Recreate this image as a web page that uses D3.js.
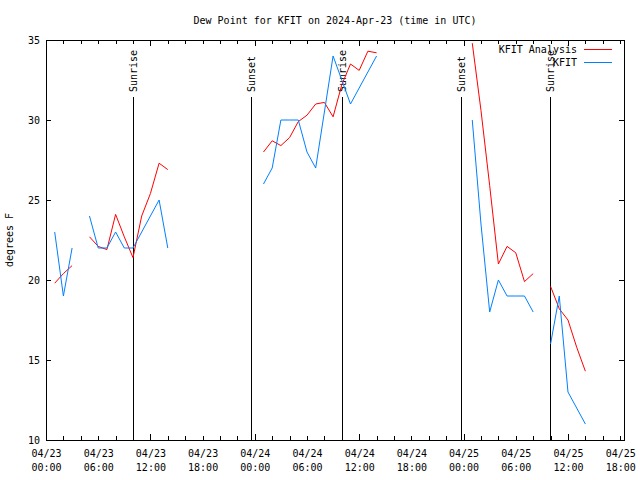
<!DOCTYPE html>
<html><head><meta charset="utf-8">
<script src="https://cdn.jsdelivr.net/npm/d3@7"></script>
<style>body{margin:0;background:#fff}</style>
</head><body>
<svg id="c" width="640" height="480"></svg>
<script>
// ---- data ----
const startTime = "2024-04-23T00:00:00Z";
// hours after start; null values break the lines
const obsHours = [1,2,3,4,5,6,7,8,9,10,11,12,13,14,24,25,26,27,28,29,30,31,32,33,34,35,36,37,38,48,49,50,51,52,53,54,55,56,57,58,59,60,61,62];
const kfitObs = [23,19,22,null,24,22,22,23,22,22,23,24,25,22,null,26,27,30,30,30,28,27,30.5,34,32.5,31,32,33,34,null,30,23.5,18,20,19,19,19,18,null,16,19,13,12,11];
const kfitAnalysis = [19.8,20.4,20.9,null,22.7,22.1,21.9,24.1,22.7,21.4,24.0,25.4,27.3,26.9,null,28.0,28.7,28.4,28.9,29.9,30.3,31.0,31.1,30.2,32.2,33.5,33.1,34.3,34.2,null,34.8,30.6,25.9,21.0,22.1,21.7,19.9,20.4,null,19.6,18.2,17.5,15.8,14.3];
const sunEvents = ["Sunrise","Sunset","Sunrise","Sunset","Sunrise"];
const sunTimes = ["2024-04-23T10:00:00Z","2024-04-23T23:34:00Z","2024-04-24T10:01:00Z","2024-04-24T23:42:00Z","2024-04-25T09:56:00Z"];
const yTicks = [10,15,20,25,30,35];
const seriesNames = ["KFIT Analysis","KFIT"];
const seriesColors = ["#ff0000","#0080ff"];
const titleText = "Dew Point for KFIT on 2024-Apr-23 (time in UTC)";
const yLabel = "degrees F";

// ---- chart ----
const svg = d3.select("#c");
const FONT = "'DejaVu Sans Mono', monospace";
const L=46, R=624, T=40, B=440;
const t0 = new Date(startTime);
const hr = h => new Date(t0.getTime() + h*3600e3);
const x = d3.scaleUtc().domain([t0, hr(66.44)]).range([L, R]);
const y = d3.scaleLinear().domain([10,35]).range([B, T]);

svg.append("rect").attr("width",640).attr("height",480).attr("fill","#fff");

// ticks
function styleAxis(g){ g.select(".domain").remove(); g.selectAll("line").attr("stroke","#000").attr("shape-rendering","crispEdges"); g.attr("font-family",FONT).attr("font-size",10); }
svg.append("g").attr("transform",`translate(0,${B})`).call(d3.axisBottom(x).ticks(d3.utcHour.every(2)).tickSize(-4).tickFormat("")).call(styleAxis);
svg.append("g").attr("transform",`translate(0,${T})`).call(d3.axisTop(x).ticks(d3.utcHour.every(2)).tickSize(-4).tickFormat("")).call(styleAxis);
svg.append("g").attr("transform",`translate(0,${B})`).call(d3.axisBottom(x).ticks(d3.utcHour.every(12)).tickSize(-6).tickFormat("")).call(styleAxis);
svg.append("g").attr("transform",`translate(0,${T})`).call(d3.axisTop(x).ticks(d3.utcHour.every(12)).tickSize(-6).tickFormat("")).call(styleAxis);

const fmtD = d3.utcFormat("%m/%d"), fmtT = d3.utcFormat("%H:%M");
const xl = svg.append("g").attr("transform",`translate(0,${B})`).call(d3.axisBottom(x).ticks(d3.utcHour.every(6)).tickSize(0).tickFormat("")).call(styleAxis);
xl.selectAll(".tick text").attr("dy",null).attr("y",null).attr("fill","#000").each(function(d){
  const t=d3.select(this);
  t.append("tspan").attr("x",0).attr("y",17).text(fmtD(d));
  t.append("tspan").attr("x",0).attr("y",31).text(fmtT(d));
});

const yl = svg.append("g").attr("transform",`translate(${L},0)`).call(d3.axisLeft(y).tickValues(yTicks).tickSize(-5).tickPadding(6)).call(styleAxis);
yl.selectAll("text").attr("fill","#000");
svg.append("g").attr("transform",`translate(${R},0)`).call(d3.axisRight(y).tickValues(yTicks).tickSize(-5).tickFormat("")).call(styleAxis);

// border
svg.append("rect").attr("x",L+0.5).attr("y",T+0.5).attr("width",R-L).attr("height",B-T)
  .attr("fill","none").attr("stroke","#000").attr("shape-rendering","crispEdges");

// title & y label
svg.append("text").attr("x",335).attr("y",24).attr("text-anchor","middle").attr("font-family",FONT).attr("font-size",10).text(titleText);
svg.append("text").attr("transform","translate(13,240) rotate(-90)").attr("text-anchor","middle").attr("font-family",FONT).attr("font-size",10).text(yLabel);

// sun events
sunTimes.forEach((s,i)=>{
  const sx = Math.round(x(new Date(s)))+0.5;
  svg.append("line").attr("x1",sx).attr("x2",sx).attr("y1",97).attr("y2",B).attr("stroke","#000").attr("shape-rendering","crispEdges");
  svg.append("text").attr("transform",`translate(${sx+3.5},92) rotate(-90)`).attr("font-family",FONT).attr("font-size",10).text(sunEvents[i]);
});

// series
const rows = obsHours.map((h,i)=>({t:hr(h), a:kfitAnalysis[i], o:kfitObs[i]}));
const lineA = d3.line().defined(d=>d.a!=null).x(d=>x(d.t)).y(d=>y(d.a));
const lineO = d3.line().defined(d=>d.o!=null).x(d=>x(d.t)).y(d=>y(d.o));
svg.append("path").datum(rows).attr("d",lineA).attr("fill","none").attr("stroke",seriesColors[0]).attr("stroke-width",1);
svg.append("path").datum(rows).attr("d",lineO).attr("fill","none").attr("stroke",seriesColors[1]).attr("stroke-width",1);

// legend
seriesNames.forEach((n,i)=>{
  const ly = 49 + i*13;
  svg.append("text").attr("x",577).attr("y",ly+4).attr("text-anchor","end").attr("font-family",FONT).attr("font-size",10).text(n);
  svg.append("line").attr("x1",584).attr("x2",612).attr("y1",ly+0.5).attr("y2",ly+0.5).attr("stroke",seriesColors[i]).attr("shape-rendering","crispEdges");
});
</script>
</body></html>
